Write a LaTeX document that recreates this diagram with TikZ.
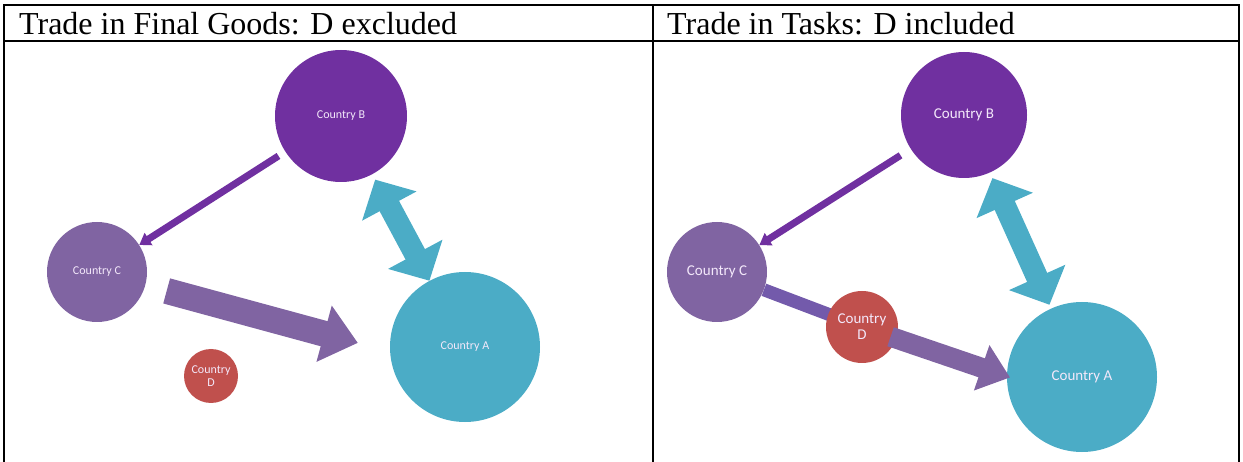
\documentclass[tikz,border=0pt]{standalone}
\usepackage{fontspec}
\setmainfont{Liberation Serif}
\newfontfamily\calib{Carlito}
\usetikzlibrary{arrows.meta,positioning}
\definecolor{purpleB}{HTML}{7030A0}
\definecolor{lilacC}{HTML}{8064A2}
\definecolor{redD}{HTML}{C0504D}
\definecolor{aquaA}{HTML}{4BACC6}
\definecolor{paletext}{HTML}{F3E8FA}
\def\Cty{Country}

\begin{document}
\begin{tikzpicture}[x=1pt,y=-1pt,% List of styles applied to all, to override specify on a case-by-case
      every node/.style={
        align=center,     % use this so that the "\\" for line break works
        inner sep=0pt
      },
      country/.style={circle,draw=none,text=paletext,font=\calib\fontsize{12}{13}\selectfont},
      bigcountry/.style={country,font=\calib\fontsize{15}{16}\selectfont},
      title/.style={anchor=base west,font=\fontsize{32}{36}\selectfont},
      frame/.style={line width=2pt},
      every edge/.style={draw}
    ]
    \useasboundingbox (0,0) rectangle (1243,462);
    % table
    \draw[frame] (4,462) -- (4,5) -- (1239,5) -- (1239,462);
    \draw[frame] (4,41) -- (1239,41);
    \draw[frame] (653,5) -- (653,462);
    \node[title](hdrL) at (19,35) {Trade in Final Goods: D excluded};
    \node[title](hdrR) at (667,35) {Trade in Tasks: D included};

    % final goods
    \node[country,fill=purpleB,minimum size=132pt](B) at (341,116) {\Cty{} B};
    \node[country,fill=lilacC,minimum size=100pt](C) at (97,272) {\Cty{} C};
    \node[country,fill=redD,minimum size=54pt](D) at (211,376) {\Cty\\D};
    \node[country,fill=aquaA,minimum size=150pt](A) at (465,347) {\Cty{} A};
    \coordinate (Aaim) at (465,372);
    \path
    (B)edge [purpleB,line width=7pt,-{Triangle[width=14pt,length=11pt]},shorten <=8pt] (C)
    (C)edge [lilacC,line width=26pt,-{Triangle[width=56pt,length=35pt]},shorten <=22pt,shorten >=111pt] (Aaim)
    (B)edge [aquaA,line width=22pt,{Triangle[width=60pt,length=30pt]}-{Triangle[width=60pt,length=30pt]},shorten <=6pt] (A)
    ;

    % tasks
    \node[bigcountry,fill=purpleB,minimum size=126pt](B2) at (964,115) {\Cty{} B};
    \node[bigcountry,fill=lilacC,minimum size=100pt](C2) at (717,272) {\Cty{} C};
    \node[bigcountry,fill=aquaA,minimum size=150pt](A2) at (1082,377) {\Cty{} A};
    \coordinate (A2aim) at (1082,402);
    \path
    (B2)edge [purpleB,line width=7pt,-{Triangle[width=14pt,length=11pt]},shorten <=12pt] (C2)
    (C2)edge [lilacC!90!blue,line width=13pt] (862,327)
    (B2)edge [aquaA,line width=22pt,{Triangle[width=60pt,length=30pt]}-{Triangle[width=60pt,length=30pt]},shorten <=6pt,shorten >=4pt] (A2)
    ;
    \node[bigcountry,fill=redD,minimum size=72pt](D2) at (862,327) {\Cty\\D};
    \path
    (D2)edge [lilacC,line width=20pt,-{Triangle[width=46pt,length=30pt]},shorten <=-6pt,shorten >=76pt] (A2aim)
    ;
  \end{tikzpicture}
\end{document}
